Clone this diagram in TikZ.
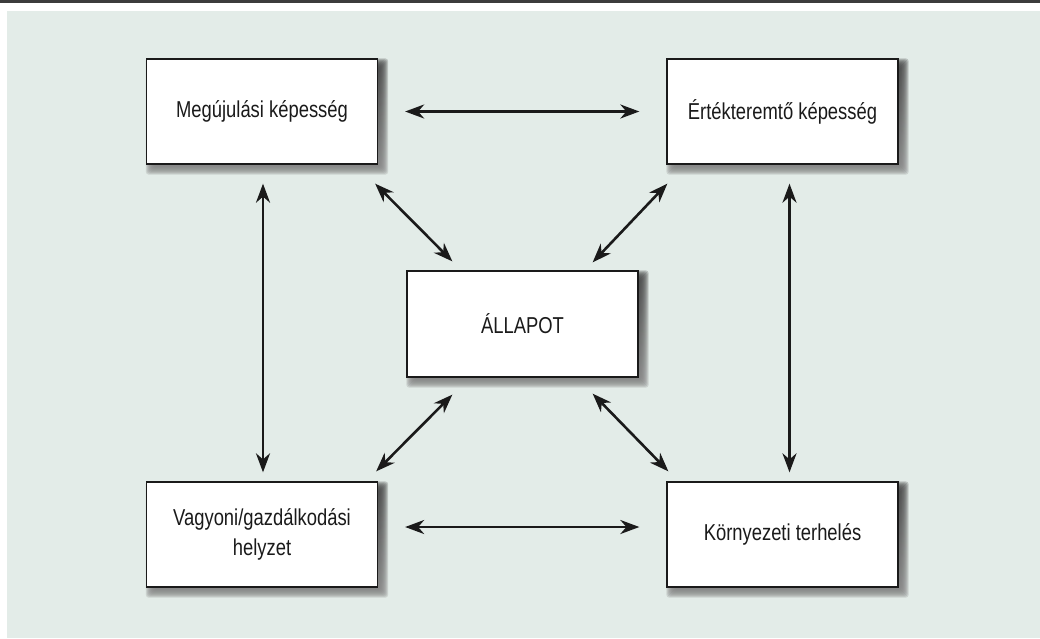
\documentclass[tikz,border=0pt]{standalone}
\usepackage{fontspec}
\setmainfont{Liberation Sans}[FakeStretch=0.8]
\usetikzlibrary{arrows.meta,calc,backgrounds}
\definecolor{panel}{HTML}{E3ECE8}
\definecolor{shade}{HTML}{6FA38F}
\definecolor{ink}{HTML}{1A1A1A}
\definecolor{rulegray}{HTML}{3C3C3C}
\tikzset{
  statebox/.style={draw=ink, line width=1.3pt, fill=white, minimum width=231pt,
    minimum height=105pt, inner sep=0pt, align=center,
    font=\fontsize{23}{30}\selectfont, text=ink},
  link/.style={line width=2.6pt, draw=ink,
    {Stealth[length=19pt,width=14pt,inset=6pt]}-{Stealth[length=19pt,width=14pt,inset=6pt]}},
}
% soft drop shadow built from stacked translucent rectangles
\newcommand\boxshadow[1]{%
  \foreach \sh in {-4,-3,...,5}{%
    \fill[shade, opacity=0.13, rounded corners=3pt]
      ($(#1.north west)+(5-\sh,5-\sh)$) rectangle ($(#1.south east)+(5+\sh,5+\sh)$);
  }}
\begin{document}
\begin{tikzpicture}[x=1pt, y=-1pt]
\useasboundingbox (0,0) rectangle (1040,638);

\node[statebox] (tl) at (262,111.5) {Megújulási képesség};
\node[statebox] (tr) at (782.5,111.5) {Értékteremtő képesség};
\node[statebox, minimum height=106pt] (c) at (522.5,324) {ÁLLAPOT};
\node[statebox] (bl) at (262,534.5) {Vagyoni/gazdálkodási\\helyzet};
\node[statebox] (br) at (782.5,534.5) {Környezeti terhelés};

\begin{scope}[on background layer]
  \fill[rulegray] (0,0) rectangle (1040,2.5);
  \fill[panel] (6.5,11) rectangle (1040,638);
  \foreach \n in {tl,tr,c,bl,br}{\boxshadow{\n}}
\end{scope}

% horizontal links
\draw[link] ($(tl.east)+(27,0)$) -- ($(tr.west)+(-27,0)$);
\draw[link] ($(bl.east)+(27,-7.5)$) -- ($(br.west)+(-27,-7.5)$);
% vertical links
\draw[link] ($(tl.south)+(1,19)$) -- ($(bl.north)+(1,-9)$);
\draw[link] ($(tr.south)+(7,19)$) -- ($(br.north)+(7,-9)$);
% diagonal links to the centre
\draw[link] ($(tl.south east)+(-3,19)$) -- ($(c.north west)+(46,-9)$);
\draw[link] ($(tr.south west)+(1,19)$) -- ($(c.north east)+(-46,-8)$);
\draw[link] ($(c.south west)+(46,17)$) -- ($(bl.north east)+(-2,-10)$);
\draw[link] ($(c.south east)+(-46,16)$) -- ($(br.north west)+(2,-10)$);
\end{tikzpicture}
\end{document}
